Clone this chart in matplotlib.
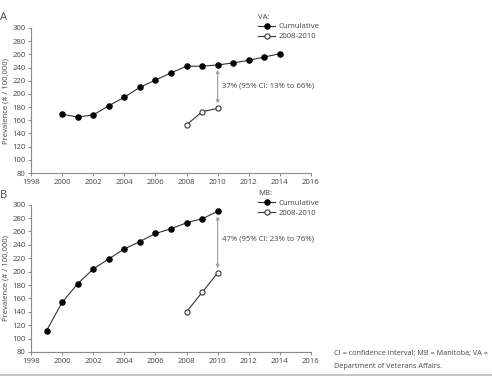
import matplotlib
matplotlib.use("Agg")
import matplotlib.pyplot as plt

plt.rcParams['font.family'] = ['Open Sans', 'DejaVu Sans']

# Panel A (VA)
va_years = [2000, 2001, 2002, 2003, 2004, 2005, 2006, 2007, 2008, 2009, 2010, 2011, 2012, 2013, 2014]
va_cum = [169, 165, 168, 182, 195, 210, 221, 232, 242, 242, 244, 247, 251, 256, 261]
va_recent_years = [2008, 2009, 2010]
va_recent = [153, 173, 178]
va_note = "37% (95% CI: 13% to 66%)"

# Panel B (MB)
mb_years = [1999, 2000, 2001, 2002, 2003, 2004, 2005, 2006, 2007, 2008, 2009, 2010]
mb_cum = [112, 154, 182, 204, 219, 234, 245, 257, 264, 273, 279, 290]
mb_recent_years = [2008, 2009, 2010]
mb_recent = [140, 169, 198]
mb_note = "47% (95% CI: 23% to 76%)"

xticks = list(range(1998, 2017, 2))
yticks = list(range(80, 301, 20))

fig = plt.figure(figsize=(4.92, 3.77), dpi=100)
W, H = 492, 377

def make_ax(top_px, bottom_px):
    left, right = 31 / W, 311 / W
    return fig.add_axes([left, 1 - bottom_px / H, right - left, (bottom_px - top_px) / H])

axA = make_ax(28, 173)
axB = make_ax(204.7, 352)

spine_c = '#8a8a8a'
txt_c = '#444444'
line_c = '#333333'
fs = 5.6
ms = 3.7

def style(ax, years, cum, ryears, recent, label, note, note_y):
    ax.plot(years, cum, '-o', color=line_c, lw=0.8, ms=ms, mfc='black', mec='black', label='Cumulative')
    ax.plot(ryears, recent, '-o', color=line_c, lw=0.8, ms=ms, mfc='white', mec=line_c, mew=0.8, label='2008-2010')
    ax.annotate('', xy=(2010, recent[-1]), xytext=(2010, cum[years.index(2010)]),
                arrowprops=dict(arrowstyle='<->', color='#999999', lw=0.8,
                                shrinkA=3.5, shrinkB=3.5, mutation_scale=5))
    ax.text(2010.3, note_y, note, fontsize=fs, color=txt_c, va='center', ha='left')
    ax.set_xlim(1998, 2016)
    ax.set_ylim(80, 300)
    ax.set_xticks(xticks)
    ax.set_yticks(yticks)
    for s in ['top', 'right']:
        ax.spines[s].set_visible(False)
    for s in ['left', 'bottom']:
        ax.spines[s].set_color(spine_c)
        ax.spines[s].set_linewidth(0.8)
    ax.tick_params(axis='both', labelsize=fs, colors=spine_c, labelcolor=txt_c,
                   length=2.5, width=0.7, pad=1.5)
    leg = ax.legend(title=label, loc='upper left', bbox_to_anchor=(0.80, 1.12),
                    frameon=False, fontsize=fs, title_fontsize=fs,
                    handlelength=2.2, handletextpad=0.4, labelspacing=0.3,
                    alignment='left', borderaxespad=0)
    for t in leg.get_texts():
        t.set_color(txt_c)
    leg.get_title().set_color(txt_c)
    ax.set_ylabel('Prevalence (# / 100,000)', fontsize=fs, color=txt_c, labelpad=6)

style(axA, va_years, va_cum, va_recent_years, va_recent, 'VA:', va_note, 212)
style(axB, mb_years, mb_cum, mb_recent_years, mb_recent, 'MB:', mb_note, 249)

for ax in (axA, axB):
    ax.yaxis.set_label_coords(-0.078, 0.5)

fig.text(0.0, 1 - 18 / H, 'A', fontsize=8, color=txt_c, va='center', ha='left')
fig.text(0.0, 1 - 196 / H, 'B', fontsize=8, color=txt_c, va='center', ha='left')

fs_note = 5.2
fig.text(334 / W, 1 - 354 / H, 'CI = confidence interval; MB = Manitoba; VA =',
         fontsize=fs_note, color=txt_c, va='center', ha='left')
fig.text(334 / W, 1 - 366 / H, 'Department of Veterans Affairs.',
         fontsize=fs_note, color=txt_c, va='center', ha='left')

fig.add_artist(plt.Line2D([0, 1], [1 - 374.5 / H] * 2, color='#bbbbbb', lw=1.2,
                          transform=fig.transFigure))

fig.savefig('out.png', dpi=100)
